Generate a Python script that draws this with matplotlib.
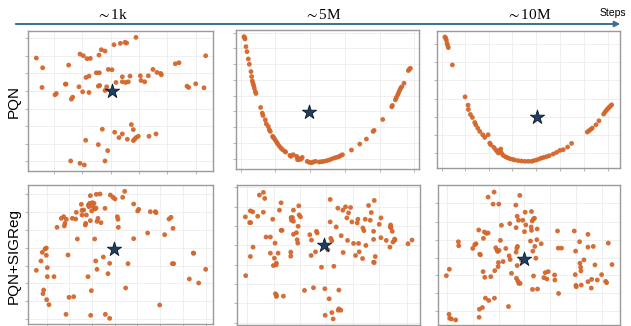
import numpy as np
import matplotlib
matplotlib.use("Agg")
import matplotlib.pyplot as plt
from matplotlib.patches import FancyArrowPatch

plt.rcParams['font.family'] = ['Liberation Sans', 'DejaVu Sans']
plt.rcParams['mathtext.fontset'] = 'stix'

# embedding coordinates (x right, y down)
pqn_1k_x = [110, 129, 127, 166, 170, 197, 199, 207, 215, 219, 213, 238, 241, 251, 249, 241, 254, 258, 259, 268,
            262, 272, 268, 290, 299, 296, 300, 298, 305, 316, 296, 308, 316, 316, 321, 324, 326, 337, 343, 349,
            345, 358, 362, 368, 368, 378, 386, 368, 376, 381, 383, 391, 395, 401, 401, 405, 409, 416, 409, 422,
            424, 435, 446, 448, 460, 472, 469, 483, 485, 527, 538, 562, 567, 588, 613, 618]
pqn_1k_y = [99, 128, 187, 209, 205, 177, 177, 120, 222, 216, 407, 185, 87, 92, 200, 414, 419, 345, 157, 153,
            101, 100, 202, 143, 143, 183, 181, 90, 74, 78, 358, 312, 407, 196, 185, 376, 133, 134, 59, 172,
            321, 337, 55, 155, 170, 172, 170, 326, 52, 54, 342, 153, 298, 313, 346, 342, 337, 333, 37, 152,
            166, 170, 152, 333, 133, 142, 326, 145, 149, 116, 113, 183, 187, 176, 188, 92]

pqn_5m = [(72, 35), (74, 38), (75, 42), (78, 65), (81, 80), (85, 102), (88, 118), (93, 140), (95, 155), (97, 168),
          (99, 175), (101, 182), (103, 190), (106, 200), (108, 206), (122, 248), (127, 265), (129, 272), (136, 285),
          (139, 297), (145, 305), (148, 315), (151, 320), (158, 335), (160, 337), (162, 340), (166, 346), (170, 352),
          (173, 357), (178, 364), (183, 370), (188, 375), (195, 380), (197, 382), (210, 392), (213, 395), (220, 390),
          (230, 395), (233, 405), (234, 400), (238, 405), (244, 403), (247, 398), (262, 410), (268, 413), (275, 414),
          (280, 412), (287, 410), (298, 412), (305, 411), (312, 410), (320, 408), (328, 406), (335, 403), (343, 400),
          (350, 398), (357, 396), (362, 393), (368, 390), (395, 376), (420, 358), (440, 343), (460, 320), (463, 317),
          (489, 284), (516, 246), (518, 242), (527, 225), (530, 218), (534, 210), (537, 203), (540, 196), (543, 190),
          (546, 186), (553, 175), (566, 137), (569, 133), (572, 130)]

pqn_10m = [(76, 36), (78, 40), (80, 45), (82, 55), (84, 62), (86, 68), (98, 120), (136, 216), (145, 241), (146, 254),
           (152, 269), (158, 278), (165, 293), (168, 300), (174, 310), (180, 320), (189, 330), (195, 338), (205, 330),
           (210, 355), (213, 360), (222, 368), (228, 375), (232, 380), (236, 385), (240, 377), (243, 373), (245, 385),
           (250, 392), (257, 396), (263, 399), (270, 402), (278, 404), (285, 406), (295, 408), (305, 409), (315, 410),
           (325, 410), (335, 410), (342, 408), (350, 406), (358, 403), (365, 400), (372, 398), (380, 396), (388, 393),
           (400, 388), (410, 383), (420, 377), (430, 375), (443, 367), (455, 356), (502, 322), (507, 318), (512, 314),
           (517, 310), (528, 300), (537, 288), (551, 268), (555, 262), (559, 257), (563, 252), (567, 248), (571, 244),
           (575, 240)]

sig_1k = [(110, 301), (124, 273), (128, 247), (130, 371), (132, 360), (136, 237), (140, 234), (140, 256), (141, 389),
          (143, 293), (143, 320), (148, 404), (163, 320), (172, 172), (185, 145), (192, 140), (194, 168), (196, 160),
          (199, 433), (200, 148), (205, 255), (208, 382), (218, 145), (222, 380), (228, 147), (230, 127), (233, 207),
          (245, 103), (247, 135), (247, 121), (252, 120), (257, 165), (258, 160), (260, 135), (265, 320), (266, 105),
          (268, 110), (272, 77), (270, 100), (272, 152), (275, 362), (276, 123), (278, 98), (280, 110), (283, 100),
          (286, 117), (285, 207), (288, 273), (289, 114), (290, 73), (292, 154), (292, 298), (295, 145), (301, 72),
          (304, 158), (273, 436), (311, 261), (316, 115), (317, 433), (325, 311), (330, 280), (330, 445), (332, 75),
          (340, 82), (346, 87), (353, 140), (355, 148), (356, 172), (369, 82), (375, 64), (378, 354), (385, 281),
          (402, 102), (402, 206), (414, 123), (417, 118), (444, 189), (452, 125), (467, 125), (469, 128), (480, 405),
          (495, 194), (508, 147), (514, 142), (520, 175), (569, 327), (581, 249), (582, 250), (597, 339), (518, 281),
          (522, 281), (618, 298)]

sig_5m = [(77, 140), (78, 315), (90, 157), (93, 157), (92, 122), (92, 258), (99, 125), (100, 230), (114, 138),
          (119, 75), (131, 67), (135, 85), (131, 126), (139, 200), (152, 200), (152, 248), (159, 147), (164, 263),
          (166, 218), (161, 285), (169, 283), (170, 278), (167, 369), (170, 373), (170, 377), (175, 248), (179, 120),
          (184, 180), (187, 180), (184, 98), (191, 376), (213, 245), (213, 257), (214, 142), (215, 150), (218, 142),
          (221, 153), (221, 120), (221, 192), (230, 187), (232, 208), (234, 218), (235, 168), (237, 107), (238, 134),
          (242, 140), (254, 359), (270, 193), (274, 255), (275, 209), (281, 351), (287, 244), (290, 183), (292, 188),
          (305, 290), (315, 354), (324, 238), (328, 384), (331, 88), (331, 155), (333, 204), (336, 211), (336, 425),
          (340, 444), (342, 287), (316, 433), (349, 170), (354, 114), (355, 418), (357, 358), (357, 414), (363, 418),
          (364, 196), (369, 120), (370, 246), (377, 110), (381, 143), (386, 128), (383, 210), (392, 112), (396, 155),
          (401, 219), (407, 255), (412, 158), (414, 147), (416, 219), (418, 244), (428, 264), (429, 173), (432, 181),
          (436, 147), (438, 225), (446, 106), (451, 150), (454, 127), (461, 183), (461, 207), (461, 275), (463, 276),
          (463, 91), (466, 258), (478, 162), (483, 143), (483, 202), (499, 210), (510, 230), (512, 164), (513, 172),
          (511, 170), (517, 183), (519, 215), (524, 206), (525, 209), (564, 220), (576, 209)]

sig_10m = [(80, 315), (89, 296), (88, 430), (90, 442), (95, 444), (108, 447), (116, 214), (117, 226), (159, 234),
           (165, 223), (169, 220), (177, 179), (178, 439), (180, 251), (182, 253), (179, 415), (188, 410), (190, 303),
           (191, 204), (194, 185), (195, 320), (197, 382), (200, 189), (205, 188), (205, 81), (207, 389), (213, 318),
           (220, 102), (223, 66), (224, 382), (225, 300), (228, 232), (232, 240), (234, 243), (236, 276), (235, 288),
           (237, 102), (238, 240), (242, 210), (245, 165), (250, 273), (258, 234), (266, 407), (268, 256), (270, 160),
           (271, 267), (275, 308), (288, 105), (289, 172), (289, 245), (291, 233), (292, 138), (292, 285), (290, 323),
           (293, 228), (294, 331), (296, 150), (297, 338), (300, 76), (301, 338), (305, 268), (309, 150), (316, 126),
           (318, 164), (314, 184), (332, 212), (335, 124), (334, 170), (335, 180), (337, 152), (339, 242), (341, 146),
           (345, 228), (341, 316), (344, 144), (348, 263), (352, 176), (351, 208), (353, 355), (338, 356), (364, 220),
           (372, 321), (376, 306), (381, 325), (385, 303), (404, 313), (405, 328), (413, 182), (415, 233), (416, 368),
           (425, 233), (463, 182), (466, 312), (467, 242), (468, 344), (469, 348), (479, 214), (480, 278), (482, 290),
           (483, 301), (484, 343), (492, 268), (504, 192), (504, 230), (504, 333), (514, 352), (515, 326), (520, 228),
           (525, 283), (532, 328), (545, 312), (557, 332), (560, 336), (565, 218), (576, 282)]

stars = {'pqn_1k': (336, 199), 'pqn_5m': (267, 263), 'pqn_10m': (350, 278),
         'sig_1k': (343, 236), 'sig_5m': (313, 223), 'sig_10m': (313, 265)}

step_labels = [r'$\sim$1k', r'$\sim$5M', r'$\sim$10M']
row_labels = ['PQN', 'PQN+SIGReg']

W, H = 631, 326
fig = plt.figure(figsize=(W / 100, H / 100), dpi=100)

def px_axes(l, t, r, b):
    return fig.add_axes([l / W, 1 - b / H, (r - l) / W, (b - t) / H])

panels = [
    ('pqn_1k', list(zip(pqn_1k_x, pqn_1k_y)), (28, 31, 213, 171), (85, 640), (437, 18),
     [163, 248, 333, 418, 503, 590], [38, 92, 145, 198, 250, 303, 356, 408]),
    ('pqn_5m', pqn_5m, (236, 30, 419, 169), (48, 598), (433, 15),
     [63, 165, 270, 375, 480, 582], [23, 70, 118, 165, 212, 260, 308, 355, 403]),
    ('pqn_10m', pqn_10m, (437, 31, 620, 168), (52, 600), (430, 18),
     [66, 137, 208, 278, 349, 421, 491, 563], [57, 111, 166, 221, 276, 331, 386]),
    ('sig_1k', sig_1k, (28, 185, 213, 324), (85, 640), (462, 45),
     [142, 209, 277, 346, 413, 481, 549, 618], [72, 125, 180, 233, 287, 340, 393, 447]),
    ('sig_5m', sig_5m, (237, 185, 420, 325), (52, 600), (462, 45),
     [82, 162, 240, 320, 400, 477, 560], [52, 110, 167, 223, 282, 340, 397, 455]),
    ('sig_10m', sig_10m, (438, 185, 620, 325), (55, 600), (462, 45),
     [83, 160, 237, 314, 391, 468, 545], [100, 155, 208, 262, 314, 367, 420]),
]

for name, pts, box, xl, yl, xt, yt in panels:
    ax = px_axes(*box)
    xs, ys = zip(*pts)
    ax.scatter(xs, ys, s=12, color='#d3662c', edgecolors='none', alpha=0.95, zorder=3)
    sx, sy = stars[name]
    ax.scatter([sx], [sy], marker='*', s=115, color='#1f3f5e', edgecolors='#0d1b2a',
               linewidths=0.6, zorder=4)
    ax.set_xlim(*xl)
    ax.set_ylim(*yl)
    ax.set_xticks(xt)
    ax.set_yticks(yt)
    ax.set_xticklabels([])
    ax.set_yticklabels([])
    ax.grid(True, color='#ececec', lw=0.6)
    ax.set_axisbelow(True)
    ax.tick_params(length=2, width=0.6, color='#aaaaaa')
    for sp in ax.spines.values():
        sp.set_color('#9a9a9a')
        sp.set_linewidth(1.0)

# time arrow on top
arrow = FancyArrowPatch((13 / W, 1 - 24 / H), (623 / W, 1 - 24 / H), transform=fig.transFigure,
                        arrowstyle='-|>', mutation_scale=8, color='#3d6f91', lw=1.4)
fig.add_artist(arrow)
for lab, cx in zip(step_labels, [112, 323, 529]):
    fig.text(cx / W, 1 - 15 / H, lab, ha='center', va='center', fontsize=11,
             family='Liberation Serif')
fig.text(613 / W, 1 - 13 / H, 'Steps', ha='center', va='center', fontsize=7.5)

for lab, cy in zip(row_labels, [102, 256]):
    fig.text(14 / W, 1 - cy / H, lab, ha='center', va='center', rotation=90, fontsize=11)

fig.savefig('out.png', dpi=100)
